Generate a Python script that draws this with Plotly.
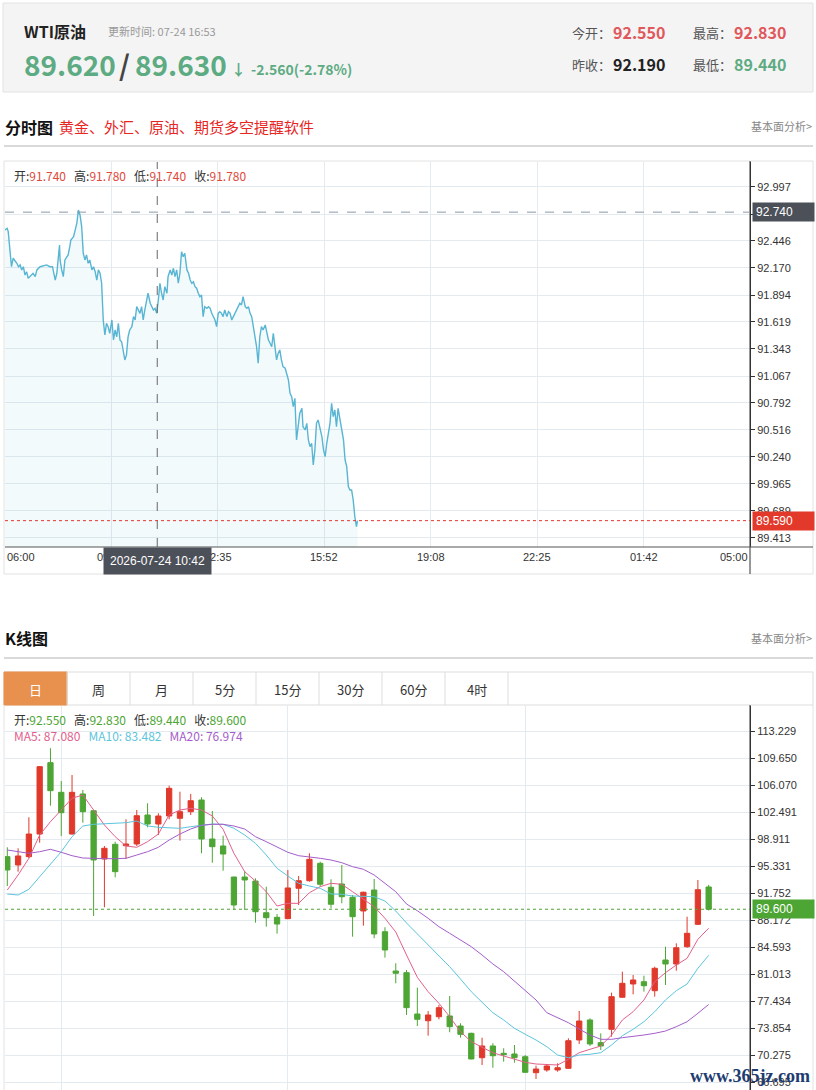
import plotly.graph_objects as go

W, H = 816, 1090

# ---------------- header data
title_name = "WTI原油"
update_time = "更新时间: 07-24 16:53"
bid_price = "89.620"
ask_price = "89.630"
change_txt = "-2.560(-2.78%)"
today_open = "92.550"
today_high = "92.830"
prev_close = "92.190"
today_low = "89.440"

# ---------------- intraday (分时图) data
time_labels = ["06:00", "09:17", "12:35", "15:52", "19:08", "22:25", "01:42", "05:00"]
intraday_ticks = [89.413, 89.689, 89.965, 90.240, 90.516, 90.792, 91.067, 91.343,
                  91.619, 91.894, 92.170, 92.446, 92.721, 92.997]
intraday_times = [
    "06:00", "06:04", "06:06", "06:09", "06:12", "06:15", "06:22", "06:25", "06:28", "06:31",
    "06:34", "06:37", "06:40", "06:43", "06:46", "06:49", "06:52", "06:56", "06:59", "07:05",
    "07:11", "07:17", "07:23", "07:28", "07:33", "07:36", "07:41", "07:42", "07:45", "07:48",
    "07:51", "07:54", "07:57", "08:00", "08:02", "08:07", "08:10", "08:13", "08:16", "08:19",
    "08:22", "08:25", "08:28", "08:31", "08:34", "08:37", "08:41", "08:44", "08:47", "08:50",
    "08:53", "08:56", "08:59", "09:02", "09:05", "09:08", "09:11", "09:14", "09:18", "09:21",
    "09:24", "09:27", "09:30", "09:33", "09:36", "09:39", "09:42", "09:45", "09:48", "09:51",
    "09:55", "09:58", "10:01", "10:04", "10:07", "10:10", "10:13", "10:16", "10:19", "10:22",
    "10:25", "10:29", "10:32", "10:35", "10:38", "10:41", "10:44", "10:47", "10:50", "10:53",
    "10:56", "11:00", "11:02", "11:06", "11:09", "11:12", "11:15", "11:18", "11:21", "11:24",
    "11:27", "11:30", "11:33", "11:37", "11:40", "11:43", "11:46", "11:49", "11:52", "11:55",
    "11:58", "12:01", "12:04", "12:07", "12:10", "12:14", "12:17", "12:20", "12:23", "12:26",
    "12:29", "12:32", "12:35", "12:38", "12:41", "12:44", "12:47", "12:51", "12:54", "12:57",
    "13:00", "13:03", "13:06", "13:09", "13:12", "13:15", "13:18", "13:21", "13:25", "13:28",
    "13:31", "13:34", "13:37", "13:40", "13:43", "13:46", "13:49", "13:52", "13:55", "13:58",
    "14:02", "14:05", "14:08", "14:11", "14:14", "14:17", "14:20", "14:23", "14:26", "14:29",
    "14:32", "14:35", "14:39", "14:42", "14:45", "14:48", "14:51", "14:54", "14:57", "15:00",
    "15:03", "15:06", "15:10", "15:12", "15:16", "15:19", "15:22", "15:25", "15:28", "15:31",
    "15:34", "15:37", "15:40", "15:43", "15:47", "15:50", "15:53", "15:56", "15:59", "16:02",
    "16:05", "16:08", "16:11", "16:14", "16:17", "16:21", "16:24", "16:27", "16:30", "16:33",
    "16:36", "16:39", "16:42", "16:45", "16:48", "16:51", "16:53"]
intraday_prices = [
    92.558, 92.575, 92.541, 92.320, 92.183, 92.269, 92.218, 92.183, 92.201, 92.150,
    92.183, 92.098, 92.132, 92.065, 92.081, 92.098, 92.116, 92.081, 92.150, 92.183,
    92.190, 92.201, 92.183, 92.183, 92.047, 92.116, 92.405, 92.252, 92.150, 92.081,
    92.252, 92.285, 92.303, 92.387, 92.456, 92.490, 92.558, 92.626, 92.762, 92.711,
    92.592, 92.320, 92.252, 92.303, 92.218, 92.252, 92.150, 92.183, 92.132, 92.047,
    92.150, 92.116, 92.014, 91.639, 91.486, 91.605, 91.571, 91.503, 91.639, 91.435,
    91.537, 91.468, 91.605, 91.435, 91.417, 91.299, 91.231, 91.282, 91.468, 91.537,
    91.571, 91.673, 91.639, 91.775, 91.741, 91.707, 91.775, 91.639, 91.741, 91.843,
    91.912, 91.810, 91.775, 91.741, 91.758, 91.707, 91.843, 92.014, 91.912, 91.843,
    91.979, 91.912, 92.081, 92.150, 92.098, 92.167, 92.081, 92.150, 92.014, 92.116,
    92.336, 92.285, 92.320, 92.150, 92.116, 92.047, 92.014, 92.030, 91.979, 91.963,
    91.912, 91.877, 91.894, 91.673, 91.775, 91.758, 91.775, 91.758, 91.707, 91.673,
    91.639, 91.571, 91.707, 91.724, 91.707, 91.673, 91.741, 91.673, 91.724, 91.707,
    91.639, 91.673, 91.707, 91.741, 91.775, 91.810, 91.792, 91.877, 91.775, 91.758,
    91.775, 91.707, 91.673, 91.571, 91.503, 91.366, 91.197, 91.468, 91.571, 91.537,
    91.588, 91.503, 91.435, 91.401, 91.366, 91.503, 91.366, 91.231, 91.299, 91.333,
    91.231, 91.162, 91.146, 91.095, 91.026, 90.891, 90.856, 90.754, 90.839, 90.414,
    90.549, 90.686, 90.737, 90.549, 90.516, 90.584, 90.414, 90.345, 90.380, 90.158,
    90.312, 90.584, 90.618, 90.549, 90.447, 90.312, 90.243, 90.380, 90.482, 90.584,
    90.788, 90.652, 90.720, 90.549, 90.737, 90.618, 90.516, 90.414, 90.209, 90.141,
    89.937, 89.903, 89.903, 89.801, 89.630, 89.528, 89.590]
last_price = 89.590
cross_price = 92.740
cross_time = "10:42"
cross_label = "2026-07-24 10:42"
cross_ohlc = ["91.740", "91.780", "91.740", "91.780"]

# ---------------- daily K (K线图) data
k_open = [96.57, 95.47, 96.57, 99.57, 109.03, 105.10, 99.57, 104.88, 102.66, 96.26,
          98.21, 98.02, 98.25, 102.09, 100.90, 101.96, 101.66, 102.53, 104.08, 98.91,
          97.98, 93.87, 93.87, 93.34, 89.14, 88.53, 88.35, 92.38, 93.38, 95.69,
          92.51, 92.95, 91.18, 89.37, 92.15, 86.62, 81.41, 81.19, 75.71, 74.82,
          75.35, 75.45, 74.12, 73.15, 69.92, 71.47, 70.50, 70.41, 70.05, 67.93,
          68.29, 68.29, 68.51, 72.27, 74.92, 71.91, 73.68, 77.93, 79.69, 79.99,
          78.80, 82.87, 82.34, 84.63, 87.60, 92.55]
k_high = [97.81, 97.68, 101.79, 108.59, 110.94, 106.60, 107.40, 105.41, 102.76, 97.98,
          98.55, 101.52, 102.76, 103.64, 102.32, 105.98, 105.18, 104.88, 104.44, 102.62,
          99.35, 93.90, 94.67, 93.70, 92.59, 88.97, 94.80, 94.01, 97.02, 95.90,
          93.57, 95.47, 91.49, 91.93, 93.61, 87.21, 82.43, 81.55, 79.20, 76.11,
          76.91, 78.10, 74.48, 73.23, 72.57, 71.83, 71.17, 71.60, 70.28, 68.86,
          69.08, 69.18, 72.49, 76.11, 75.14, 73.15, 78.54, 81.32, 80.88, 80.79,
          81.98, 84.63, 85.08, 88.61, 93.48, 92.83]
k_low = [92.68, 94.58, 96.35, 98.42, 103.33, 99.31, 99.50, 101.07, 88.70, 89.86,
         93.83, 96.26, 97.98, 100.46, 99.44, 101.52, 98.69, 102.09, 97.02, 95.77,
         94.71, 89.50, 89.50, 87.82, 87.29, 86.36, 88.30, 90.16, 93.25, 92.59,
         89.73, 90.39, 85.96, 87.42, 85.75, 83.18, 79.78, 75.58, 74.12, 72.84,
         75.01, 73.29, 72.57, 69.71, 68.95, 68.59, 69.39, 69.26, 67.93, 67.10,
         68.06, 68.06, 68.45, 71.74, 71.47, 70.94, 72.70, 77.87, 78.32, 78.67,
         78.01, 79.56, 81.45, 84.50, 87.51, 89.44]
k_close = [94.80, 96.66, 99.57, 108.50, 105.32, 102.40, 105.10, 102.53, 96.13, 97.68,
           94.58, 98.25, 102.00, 100.90, 101.96, 105.63, 102.53, 103.99, 98.91, 97.89,
           96.92, 90.16, 93.48, 89.27, 88.48, 87.64, 92.42, 93.38, 96.22, 92.91,
           90.26, 91.26, 88.61, 91.85, 86.32, 84.20, 81.11, 76.55, 75.01, 75.58,
           76.55, 74.03, 73.02, 69.75, 71.47, 70.18, 70.32, 69.92, 67.98, 68.42,
           68.82, 68.59, 72.17, 74.78, 71.74, 71.47, 78.01, 79.78, 80.22, 79.46,
           81.77, 82.34, 84.50, 86.41, 92.19, 89.60]
ma5 = [92.150, 94.139, 96.353, 99.442, 101.205, 102.756, 104.307, 104.744, 102.756, 100.767,
       99.216, 97.983, 97.811, 98.554, 99.574, 102.093, 102.756, 102.981, 102.756, 101.961,
       100.197, 97.016, 94.576, 93.343, 91.925, 90.029, 90.387, 90.387, 91.793, 92.588,
       93.039, 92.906, 91.925, 90.918, 89.937, 88.399, 86.583, 83.533, 80.577, 78.668,
       77.130, 75.354, 73.365, 72.039, 71.297, 70.581, 70.144, 69.706, 69.309, 69.083,
       69.043, 68.951, 69.706, 70.581, 71.032, 71.469, 72.928, 74.916, 76.016, 77.568,
       79.994, 81.187, 82.208, 83.096, 85.615, 87.080]
ma10 = [91.620, 91.487, 92.243, 93.913, 95.465, 97.228, 99.216, 100.635, 100.860, 100.900,
        100.940, 101.072, 101.298, 100.635, 100.463, 100.410, 100.330, 100.542, 100.767, 100.900,
        100.860, 100.330, 99.442, 98.341, 96.790, 95.027, 94.006, 93.039, 92.681, 92.376,
        91.620, 91.580, 91.355, 91.355, 91.262, 90.692, 89.366, 87.776, 86.317, 84.951,
        83.441, 81.983, 80.352, 78.668, 77.263, 75.884, 74.916, 73.816, 73.020, 72.265,
        71.376, 70.276, 69.918, 70.276, 70.369, 70.581, 71.602, 72.835, 73.683, 74.691,
        76.016, 77.568, 78.801, 79.689, 81.770, 83.482]
ma20 = [97.453, 97.228, 97.016, 97.228, 97.546, 97.148, 96.698, 96.393, 96.300, 96.300,
        96.300, 96.353, 96.790, 97.228, 97.811, 98.779, 99.574, 100.237, 100.728, 100.860,
        100.860, 100.635, 100.237, 99.216, 98.554, 97.811, 97.148, 96.698, 96.565, 96.353,
        96.127, 95.770, 95.240, 94.895, 94.139, 93.039, 91.925, 90.294, 89.406, 88.399,
        87.285, 86.410, 85.522, 84.634, 83.533, 82.341, 81.319, 80.086, 78.893, 77.568,
        75.884, 75.274, 74.558, 73.723, 72.928, 72.357, 72.357, 72.570, 72.703, 72.928,
        73.153, 73.458, 74.028, 74.691, 75.805, 76.974]
k_ticks = [66.695, 70.275, 73.854, 77.434, 81.013, 84.593, 88.172, 91.752, 95.331,
           98.911, 102.491, 106.070, 109.650, 113.229]
k_grid_idx = [5, 26, 48]
k_last = 89.600
k_ohlc = ["92.550", "92.830", "89.440", "89.600"]
ma_labels = ["MA5: 87.080", "MA10: 83.482", "MA20: 76.974"]
tabs = ["日", "周", "月", "5分", "15分", "30分", "60分", "4时"]

# ---------------- colors / styles
GREEN_H = "#5dab82"
RED_H = "#e0585b"
K_RED = "#e0392b"
K_GREEN = "#4da534"
GRID = "#e3eaf0"
CJK = "Noto Sans CJK SC"
NUM = "Liberation Sans"


def to_min(t):
    h, m = map(int, t.split(":"))
    v = h * 60 + m - 360
    return v if v >= 0 else v + 1440


def px(x):
    return x / W


def py(y):
    return 1 - y / H


fig = go.Figure()

# intraday line
fig.add_trace(go.Scatter(
    x=[to_min(t) for t in intraday_times], y=intraday_prices, mode="lines",
    line=dict(color="#58b5d3", width=1.4), fill="tozeroy",
    fillcolor="rgba(88,181,211,0.07)", xaxis="x", yaxis="y", hoverinfo="skip"))

# candles
kx = list(range(len(k_open)))
fig.add_trace(go.Candlestick(
    x=kx, open=k_open, high=k_high, low=k_low, close=k_close,
    increasing=dict(line=dict(color=K_RED, width=1), fillcolor=K_RED),
    decreasing=dict(line=dict(color=K_GREEN, width=1), fillcolor=K_GREEN),
    whiskerwidth=0, xaxis="x2", yaxis="y2", hoverinfo="skip"))
for vals, col in [(ma5, "#e3608b"), (ma10, "#5cc5dc"), (ma20, "#a45dca")]:
    fig.add_trace(go.Scatter(x=kx, y=vals, mode="lines", line=dict(color=col, width=1),
                             xaxis="x2", yaxis="y2", hoverinfo="skip"))

shapes = []
annotations = []


def pline(x0, y0, x1, y1, color="#ddd", width=1, dash="solid"):
    shapes.append(dict(type="line", xref="paper", yref="paper", x0=px(x0), y0=py(y0),
                       x1=px(x1), y1=py(y1), line=dict(color=color, width=width, dash=dash)))


def prect(x0, y0, x1, y1, fill=None, line="#ddd", layer="below"):
    shapes.append(dict(type="rect", xref="paper", yref="paper", x0=px(x0), y0=py(y0),
                       x1=px(x1), y1=py(y1), fillcolor=fill or "rgba(0,0,0,0)",
                       line=dict(color=line, width=1), layer=layer))


def ann(text, x, y, size=12, color="#333", family=CJK, xanchor="left", **kw):
    annotations.append(dict(text=text, x=px(x), y=py(y), xref="paper", yref="paper",
                            xanchor=xanchor, yanchor="middle", showarrow=False,
                            font=dict(size=size, color=color, family=family), **kw))


# ---- header
prect(3, 3, 813, 92, fill="#f4f4f4", line="#e2e2e2")
ann("<b>" + title_name + "</b>", 22, 31, size=16, color="#222")
ann(update_time, 106, 31, size=11, color="#999")
ann("<b>" + bid_price + "</b>", 22, 64, size=28, color=GREEN_H)
ann("<b>/</b>", 117, 64, size=28, color="#444")
ann("<b>" + ask_price + "</b>", 133, 64, size=28, color=GREEN_H)
ann("<b>↓</b>", 229, 69, size=15, color=GREEN_H)
ann("<b>" + change_txt + "</b>", 249, 69, size=14, color=GREEN_H)
ann("今开：", 570, 32, size=13, color="#555")
ann("<b>" + today_open + "</b>", 611, 32, size=16, color=RED_H)
ann("最高：", 691, 32, size=13, color="#555")
ann("<b>" + today_high + "</b>", 732, 32, size=16, color=RED_H)
ann("昨收：", 570, 64, size=13, color="#555")
ann("<b>" + prev_close + "</b>", 611, 64, size=16, color="#222")
ann("最低：", 691, 64, size=13, color="#555")
ann("<b>" + today_low + "</b>", 732, 64, size=16, color=GREEN_H)

# ---- section 分时图
ann("<b>分时图</b>", 3, 127, size=16, color="#111")
ann("黄金、外汇、原油、期货多空提醒软件", 57, 126, size=15, color="#e8251f")
ann("基本面分析>", 814, 126, size=11, color="#888", xanchor="right")
pline(4, 146, 813, 146, color="#cccccc", width=1.5)

prect(4, 161, 813, 574, line="#e2e2e2")
pline(750, 161, 750, 574, color="#333")
pline(5, 547, 813, 547, color="#555")

x_tick_vals = [i * 1380 / (len(time_labels) - 1) for i in range(len(time_labels))]
for i, (tv, tl) in enumerate(zip(x_tick_vals, time_labels)):
    xa = "left" if i == 0 else ("right" if i == len(time_labels) - 1 else "center")
    annotations.append(dict(text=tl, x=tv, xref="x", y=py(557), yref="paper", xanchor=xa,
                            yanchor="middle", showarrow=False,
                            font=dict(size=11, color="#333", family=NUM)))

ct = to_min(cross_time)
shapes.append(dict(type="line", xref="x", yref="paper", x0=ct, x1=ct, y0=py(547), y1=py(162),
                   line=dict(color="#666", width=1, dash="dash")))
shapes.append(dict(type="line", xref="paper", yref="y", x0=px(5), x1=px(750), y0=cross_price,
                   y1=cross_price, line=dict(color="#8d99a8", width=1, dash="dash")))
shapes.append(dict(type="line", xref="paper", yref="y", x0=px(5), x1=px(750), y0=last_price,
                   y1=last_price, line=dict(color="#e8352a", width=1, dash="dot")))

annotations.append(dict(text=cross_label, x=ct, xref="x", y=py(561), yref="paper",
                        xanchor="center", yanchor="middle", showarrow=False,
                        bgcolor="#4c5059", width=101, height=20, borderpad=3,
                        font=dict(size=12, color="white", family=NUM)))
for val, bg, yr in [(cross_price, "#4c5059", "y"), (last_price, "#e2392a", "y"),
                    (k_last, K_GREEN, "y2")]:
    annotations.append(dict(text="%.3f" % val, x=px(752), xref="paper", y=val, yref=yr,
                            xanchor="left", yanchor="middle", showarrow=False, bgcolor=bg,
                            width=55, height=12, borderpad=3, align="left",
                            font=dict(size=12, color="white", family=NUM)))

sp = "\u00a0\u00a0\u00a0"
ann("开:<span style='color:#e0483a'>%s</span>%s高:<span style='color:#e0483a'>%s</span>%s"
    "低:<span style='color:#e0483a'>%s</span>%s收:<span style='color:#e0483a'>%s</span>"
    % (cross_ohlc[0], sp, cross_ohlc[1], sp, cross_ohlc[2], sp, cross_ohlc[3]),
    12, 175, size=12, color="#333")

# ---- section K线图
ann("<b>K线图</b>", 3, 638, size=16, color="#111")
ann("基本面分析>", 814, 638, size=11, color="#888", xanchor="right")
pline(4, 658, 813, 658, color="#cccccc", width=1.5)

prect(4, 672, 813, 705, line="#dddddd")
prect(4, 672, 67, 705, fill="#e8914e", line="#e8914e")
for i, t in enumerate(tabs):
    x0 = 4 + 63 * i
    if i > 0:
        pline(x0, 672, x0, 705, color="#dddddd")
    ann(t, x0 + 31.5, 689, size=13, color="white" if i == 0 else "#333", xanchor="center")
pline(4 + 63 * len(tabs), 672, 4 + 63 * len(tabs), 705, color="#dddddd")

pline(4, 705, 4, 1090, color="#e2e2e2")
pline(813, 705, 813, 1090, color="#e2e2e2")
pline(750, 705, 750, 1090, color="#333")
shapes.append(dict(type="line", xref="paper", yref="y2", x0=px(5), x1=px(750), y0=k_last,
                   y1=k_last, line=dict(color=K_GREEN, width=1, dash="dot")))

ann("开:<span style='color:#4da534'>%s</span>%s高:<span style='color:#4da534'>%s</span>%s"
    "低:<span style='color:#4da534'>%s</span>%s收:<span style='color:#4da534'>%s</span>"
    % (k_ohlc[0], sp, k_ohlc[1], sp, k_ohlc[2], sp, k_ohlc[3]), 12, 719, size=12, color="#333")
ann("<span style='color:#e3608b'>%s</span>%s<span style='color:#5cc5dc'>%s</span>%s"
    "<span style='color:#a45dca'>%s</span>" % (ma_labels[0], sp, ma_labels[1], sp, ma_labels[2]),
    12, 735, size=12, color="#333")

ann("<b>www.365jz.com</b>", 750, 1076, size=18, color="#1d3c70", family="Liberation Serif",
    xanchor="center")

# the 92.721 label sits under the crosshair price box in the original, so leave it blank
intraday_ticktext = ["" if abs(v - 92.721) < 1e-6 else "%.3f" % v for v in intraday_ticks]

axis_font = dict(family=NUM, size=11, color="#333")
fig.update_layout(
    width=W, height=H, margin=dict(l=0, r=0, t=0, b=0),
    paper_bgcolor="white", plot_bgcolor="rgba(0,0,0,0)", showlegend=False,
    xaxis=dict(domain=[px(5), px(750)], range=[0, 1380], tickvals=x_tick_vals,
               showticklabels=False, showgrid=True, gridcolor=GRID, zeroline=False,
               showline=False, anchor="y", fixedrange=True),
    yaxis=dict(domain=[py(547), py(162)], range=[89.321, 93.252], side="right",
               tickvals=intraday_ticks, ticktext=intraday_ticktext,
               ticks="outside", ticklen=4, tickcolor="#333", showline=True, linecolor="#333",
               showgrid=True, gridcolor=GRID, zeroline=False, tickfont=axis_font, anchor="x"),
    xaxis2=dict(domain=[px(5), px(750)], range=[-0.213, 68.83], tickvals=k_grid_idx,
                showticklabels=False, showgrid=True, gridcolor=GRID, zeroline=False,
                anchor="y2", rangeslider=dict(visible=False)),
    yaxis2=dict(domain=[0, py(706)], range=[65.636, 116.543], side="right",
                tickvals=k_ticks, ticktext=["%.3f" % v for v in k_ticks],
                ticks="outside", ticklen=4, tickcolor="#333", showline=True, linecolor="#333",
                showgrid=True, gridcolor=GRID, zeroline=False, tickfont=axis_font, anchor="x2"),
    shapes=shapes, annotations=annotations,
)

fig.write_html("out.html", post_script="document.body.style.margin='0';")
